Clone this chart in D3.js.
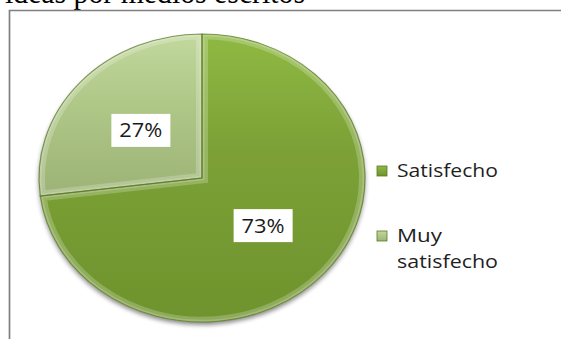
<!DOCTYPE html>
<html>
<head>
<meta charset="utf-8">
<script src="https://cdn.jsdelivr.net/npm/d3@7"></script>
<style>
  html, body { margin: 0; padding: 0; background: #fff; }
  svg { display: block; }
</style>
</head>
<body>
<svg id="chart" width="561" height="339"></svg>
<script>
// Satisfaction shares, in legend order
const categories = ["Satisfecho", "Muy satisfecho"];
const values = [73, 27];
const valueLabels = ["73%", "27%"];
const legendLines = [["Satisfecho"], ["Muy", "satisfecho"]];
const titleText = "ideas por medios escritos";

const W = 561, H = 339;
const svg = d3.select("#chart");
const defs = svg.append("defs");

// page heading, partly cut off at the top
svg.append("text")
  .attr("x", 5).attr("y", 3)
  .attr("font-family", "'Liberation Serif', 'Times New Roman', serif")
  .attr("font-size", 32)
  .attr("textLength", 300).attr("lengthAdjust", "spacingAndGlyphs")
  .attr("fill", "#000")
  .text(titleText);

// chart frame (left and top edges visible)
svg.append("path")
  .attr("d", `M9.5,${H} V10.5 H${W}`)
  .attr("fill", "none").attr("stroke", "#808080").attr("stroke-width", 1.7);

// pie geometry: slightly flattened ellipse
const cx = 202, cy = 178, rx = 163, ry = 144;
const r = rx;

const color = d3.scaleOrdinal().domain(categories).range(["#7ca136", "#b0c888"]);
const topColor = { "Satisfecho": "#8fb943", "Muy satisfecho": "#c2d89e" };
const botColor = { "Satisfecho": "#6e932d", "Muy satisfecho": "#9cb376" };

categories.forEach((c, i) => {
  const g = defs.append("linearGradient").attr("id", "grad" + i)
    .attr("x1", 0).attr("y1", 0).attr("x2", 0).attr("y2", 1);
  g.append("stop").attr("offset", "0%").attr("stop-color", topColor[c]);
  g.append("stop").attr("offset", "40%").attr("stop-color", color(c));
  g.append("stop").attr("offset", "100%").attr("stop-color", botColor[c]);
});

const shadow = defs.append("filter").attr("id", "shadow")
  .attr("x", "-20%").attr("y", "-20%").attr("width", "140%").attr("height", "140%");
shadow.append("feGaussianBlur").attr("in", "SourceAlpha").attr("stdDeviation", 2.5).attr("result", "b");
shadow.append("feOffset").attr("in", "b").attr("dx", 0).attr("dy", 3).attr("result", "o");
shadow.append("feComponentTransfer").attr("in", "o").attr("result", "s")
  .append("feFuncA").attr("type", "linear").attr("slope", 0.45);
const m = shadow.append("feMerge");
m.append("feMergeNode").attr("in", "s");
m.append("feMergeNode").attr("in", "SourceGraphic");

const pie = d3.pie().sort(null).value(d => d.value);
const arcs = pie(categories.map((c, i) => ({ name: c, value: values[i], label: valueLabels[i] })));
const arc = d3.arc().innerRadius(0).outerRadius(r);

const pieG = svg.append("g")
  .attr("transform", `translate(${cx},${cy}) scale(1,${ry / rx})`);

// clip each slice so its bevel stays inside
arcs.forEach((a, i) => {
  defs.append("clipPath").attr("id", "clip" + i)
    .append("path").attr("d", arc(a));
});

const slices = pieG.append("g").attr("filter", "url(#shadow)");
slices.selectAll("path.slice").data(arcs).join("path")
  .attr("class", "slice")
  .attr("d", arc)
  .attr("fill", (d, i) => `url(#grad${i})`);

// bevel: light rim inside each slice
const bevel = pieG.append("g");
arcs.forEach((a, i) => {
  const bg = bevel.append("g").attr("clip-path", `url(#clip${i})`);
  bg.append("path").attr("d", arc(a))
    .attr("fill", "none").attr("stroke", "#ffffff").attr("stroke-opacity", 0.22)
    .attr("stroke-width", 12);
  bg.append("path").attr("d", arc(a))
    .attr("fill", "none").attr("stroke", "#ffffff").attr("stroke-opacity", 0.18)
    .attr("stroke-width", 5);
});
pieG.selectAll("path.edge").data(arcs).join("path")
  .attr("class", "edge")
  .attr("d", arc)
  .attr("fill", "none")
  .attr("stroke", "#5a7a24").attr("stroke-opacity", 0.75).attr("stroke-width", 1.2);

// value labels on white boxes at slice centroids
const labelFont = "'Open Sans', 'DejaVu Sans', sans-serif";
arcs.forEach(a => {
  const [px, py] = arc.centroid(a);
  const x = cx + px, y = cy + py * ry / rx;
  svg.append("rect")
    .attr("x", x - 29.5).attr("y", y - 16.5)
    .attr("width", 59).attr("height", 33)
    .attr("fill", "#ffffff");
  svg.append("text")
    .attr("x", x).attr("y", y + 7)
    .attr("text-anchor", "middle")
    .attr("font-family", labelFont).attr("font-size", 20)
    .attr("textLength", 43).attr("lengthAdjust", "spacingAndGlyphs")
    .attr("fill", "#1a1a1a")
    .text(a.data.label);
});

// legend
const legendX = 377;
const legendRows = [{ y: 177 }, { y: 242 }];
const lineWidths = { "Satisfecho": 101, "Muy": 45, "satisfecho": 101 };
categories.forEach((c, i) => {
  const base = legendRows[i].y;
  const lg = defs.append("linearGradient").attr("id", "lgrad" + i)
    .attr("x1", 0).attr("y1", 0).attr("x2", 0).attr("y2", 1);
  lg.append("stop").attr("offset", "0%").attr("stop-color", topColor[c]);
  lg.append("stop").attr("offset", "100%").attr("stop-color", botColor[c]);
  svg.append("rect")
    .attr("x", legendX).attr("y", base - 11)
    .attr("width", 10).attr("height", 10)
    .attr("fill", `url(#lgrad${i})`)
    .attr("stroke", "#5a7a24").attr("stroke-width", 0.8);
  legendLines[i].forEach((line, j) => {
    svg.append("text")
      .attr("x", legendX + 20).attr("y", base + j * 26)
      .attr("font-family", labelFont).attr("font-size", 19)
      .attr("textLength", lineWidths[line]).attr("lengthAdjust", "spacingAndGlyphs")
      .attr("fill", "#1f1f1f")
      .text(line);
  });
});
</script>
</body>
</html>
